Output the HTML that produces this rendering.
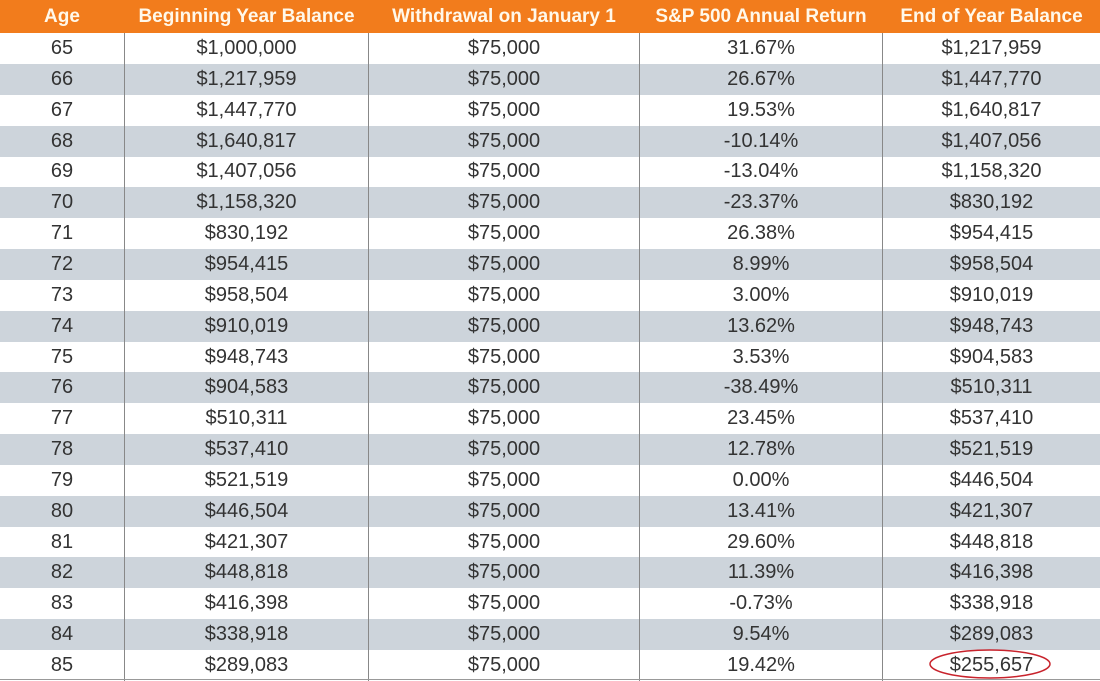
<!DOCTYPE html>
<html><head><style>
body{margin:0;width:1100px;height:681px;overflow:hidden;background:#fff;font-family:"Liberation Sans",sans-serif;position:relative}
.h{position:absolute;left:0;top:0;width:1100px;height:33px;background:#f27c1c}
.r{position:absolute;left:0;width:1100px;height:31px}
.g{background:#cdd4db}
.c{position:absolute;top:0;height:100%;display:flex;align-items:center;justify-content:center;font-size:20px;color:#333;white-space:nowrap}
.h .c{color:#fff8ea;font-size:19px;font-weight:bold}
.v{position:absolute;top:33px;bottom:0;width:1px;background:#888}
</style></head><body>
<div class="h">
<div class="c" style="left:0;width:124px">Age</div>
<div class="c" style="left:124px;width:245px">Beginning Year Balance</div>
<div class="c" style="left:369px;width:270px">Withdrawal on January 1</div>
<div class="c" style="left:639px;width:244px">S&amp;P 500 Annual Return</div>
<div class="c" style="left:883px;width:217px">End of Year Balance</div>
</div>
<div id="rows"></div>
<div class="v" style="left:124px"></div>
<div class="v" style="left:368px"></div>
<div class="v" style="left:639px"></div>
<div class="v" style="left:882px"></div>
<div style="position:absolute;left:0;right:0;top:679px;height:1px;background:#999"></div>
<svg style="position:absolute;left:0;top:0" width="1100" height="681"><ellipse cx="990" cy="664" rx="60" ry="14" fill="none" stroke="#c8232c" stroke-width="1.5"/></svg>
<script>
var d=[[65,"$1,000,000","31.67%","$1,217,959"],[66,"$1,217,959","26.67%","$1,447,770"],[67,"$1,447,770","19.53%","$1,640,817"],[68,"$1,640,817","-10.14%","$1,407,056"],[69,"$1,407,056","-13.04%","$1,158,320"],[70,"$1,158,320","-23.37%","$830,192"],[71,"$830,192","26.38%","$954,415"],[72,"$954,415","8.99%","$958,504"],[73,"$958,504","3.00%","$910,019"],[74,"$910,019","13.62%","$948,743"],[75,"$948,743","3.53%","$904,583"],[76,"$904,583","-38.49%","$510,311"],[77,"$510,311","23.45%","$537,410"],[78,"$537,410","12.78%","$521,519"],[79,"$521,519","0.00%","$446,504"],[80,"$446,504","13.41%","$421,307"],[81,"$421,307","29.60%","$448,818"],[82,"$448,818","11.39%","$416,398"],[83,"$416,398","-0.73%","$338,918"],[84,"$338,918","9.54%","$289,083"],[85,"$289,083","19.42%","$255,657"]];
var L=[[0,124],[124,245],[369,270],[639,244],[883,217]],h="";
d.forEach(function(r,i){var v=[r[0],r[1],"$75,000",r[2],r[3]];h+='<div class="r'+(i%2?' g':'')+'" style="top:'+(33+i*30.85)+'px">';v.forEach(function(t,j){h+='<div class="c" style="left:'+L[j][0]+'px;width:'+L[j][1]+'px">'+t+'</div>'});h+='</div>'});
document.getElementById("rows").innerHTML=h;
</script>
</body></html>
